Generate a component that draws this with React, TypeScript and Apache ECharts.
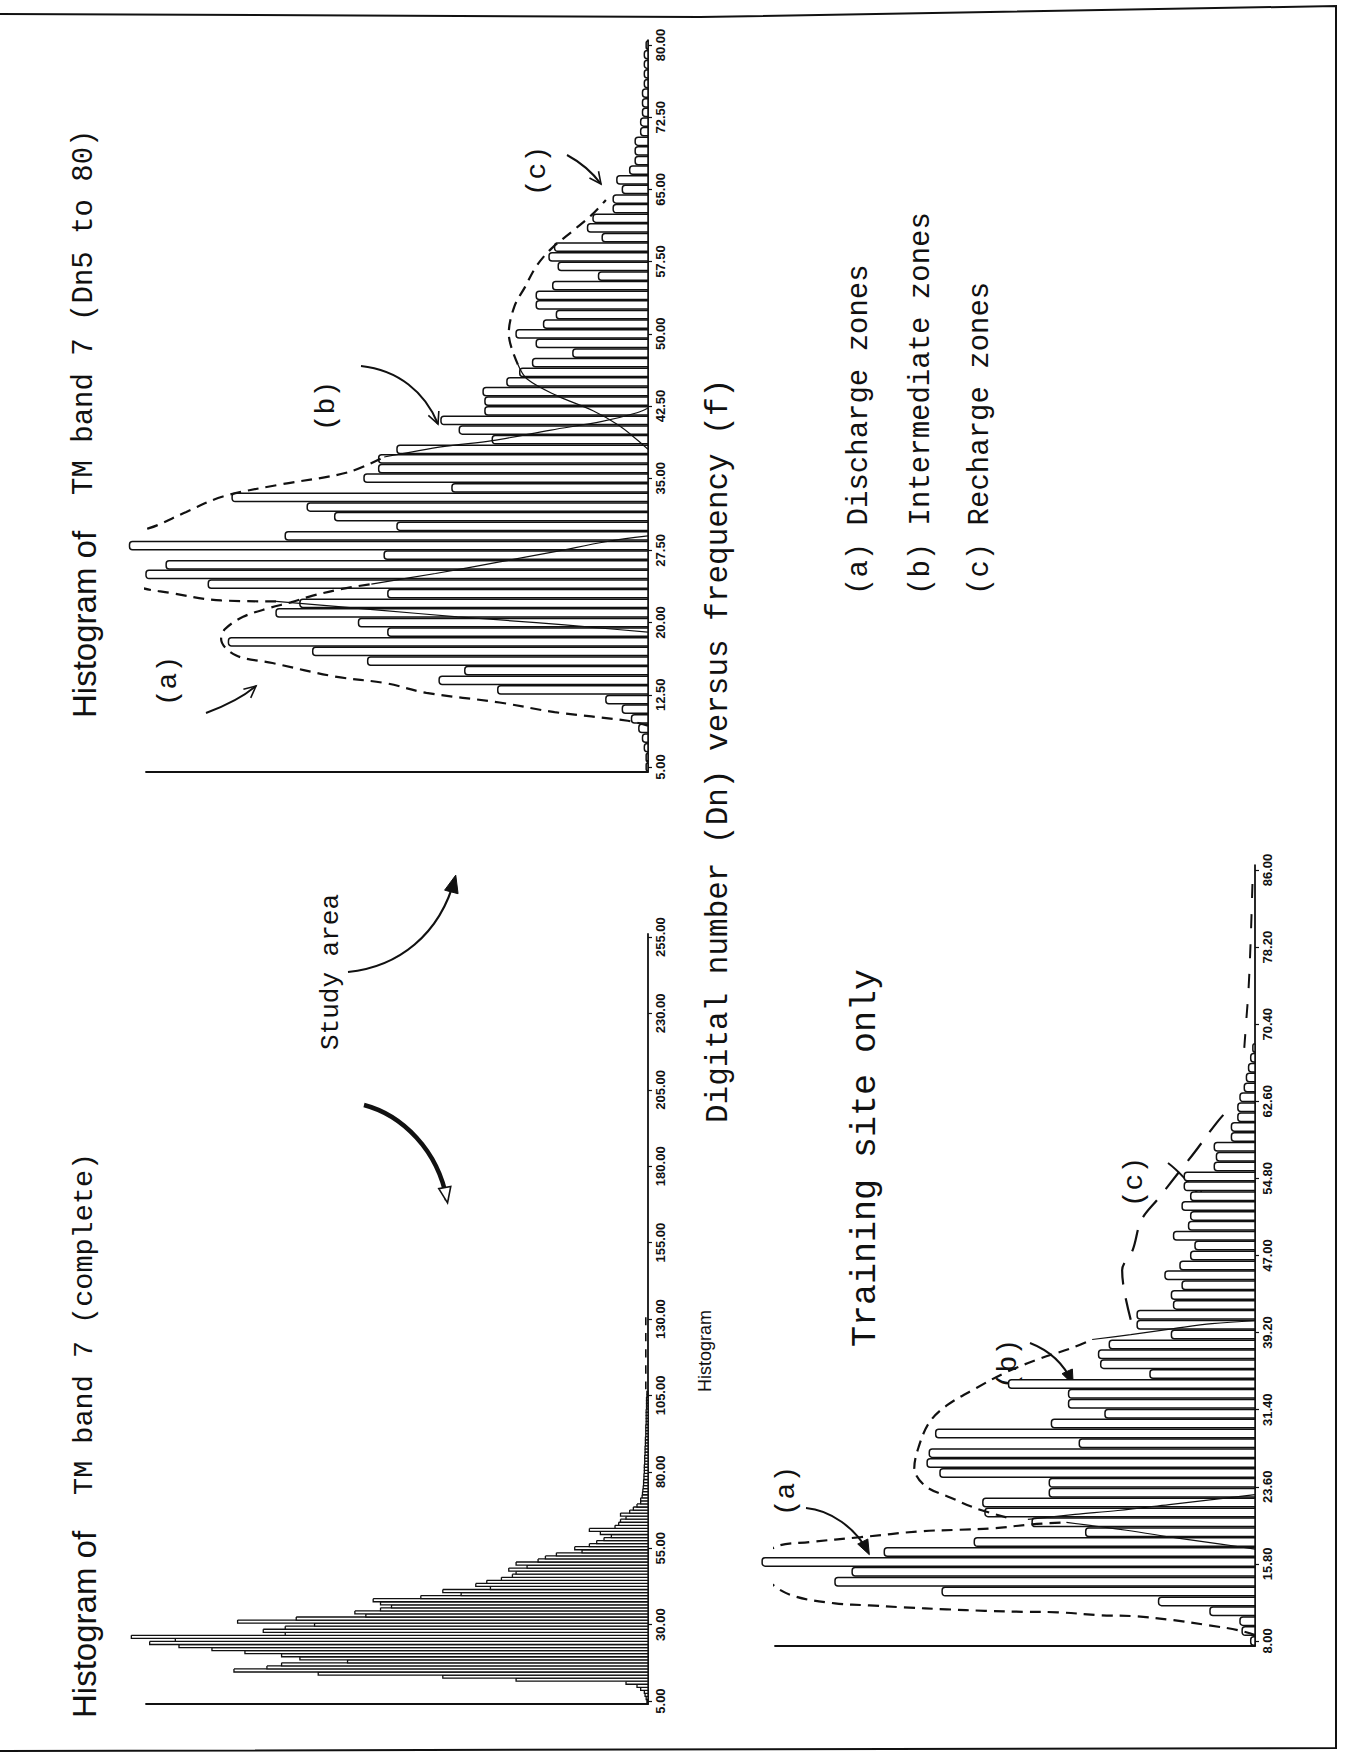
import React, { useEffect, useRef } from "react";
import * as echarts from "echarts";

// ---------------- DATA ----------------
// Histogram of TM band 7 (Dn5 to 80): frequency per Dn, Dn 5..80
const dn5Start = 5;
const dn5Freq = [
  0.5, 0.5, 1, 1.5, 2.5, 4.5, 7, 11.5,
  41, 57, 50, 76.5, 91.5, 114.5, 71, 79,
  101.5, 95, 71, 120, 137, 131.5, 72, 141.5,
  99, 68.5, 85.5, 93, 113.5, 53.5, 77.5, 73.5,
  73.5, 68.5, 42.5, 51.5, 56.5, 44.5, 44.5, 45,
  38.5, 35, 31.5, 20.5, 30.5, 36, 28.5, 25,
  30.5, 30.5, 26, 13.5, 24.5, 27, 25.5, 12.5,
  16.5, 15, 9.5, 9.5, 7, 8.5, 5, 3.5,
  3.5, 3.5, 2, 2, 1.5, 1.5, 1.5, 1,
  1, 1, 1, 0.5,
];
const dn5Ticks = [5, 12.5, 20, 27.5, 35, 42.5, 50, 57.5, 65, 72.5, 80];

// Histogram of TM band 7 (complete): Dn 5..108
const completeStart = 5;
const completeFreq = [
  0.3, 0.5, 0.8, 1, 2, 3, 6, 36,
  56, 90, 113, 104, 100, 82, 95, 100,
  110, 119, 128, 136, 129, 141, 99, 105,
  99, 91, 112, 96, 77, 80, 73, 70,
  73, 75, 62, 51, 56, 43, 47, 44,
  40, 37, 36, 38, 33, 36, 30, 28,
  25, 18, 20, 16, 14, 12, 10, 13,
  16, 9, 8, 7.5, 6, 7.5, 5, 4,
  3, 2, 2, 1.6, 1.5, 1.4, 1.3, 1.2,
  1.2, 1.1, 1.1, 1, 1, 1, 0.9, 0.9,
  0.9, 0.8, 0.8, 0.8, 0.7, 0.7, 0.7, 0.6,
  0.6, 0.6, 0.6, 0.5, 0.5, 0.5, 0.5, 0.5,
  0.4, 0.4, 0.4, 0.4, 0.3, 0.3,
];
const completeTicks = [5, 30, 55, 80, 105, 130, 155, 180, 205, 230, 255];
const completeTail = [[0.6, 107], [0.6, 132]];

// Training site only: Dn 8..68
const trainStart = 8;
const trainFreq = [
  1, 3, 3.5, 10.5, 22.5, 73, 98, 94,
  115, 86.5, 65.5, 39.5, 52, 63, 63.5, 48,
  48, 73.5, 76.5, 76, 41, 74.5, 47.5, 35,
  43.5, 43.5, 57.5, 24.5, 36, 36.5, 34, 19.5,
  27.5, 27.5, 19, 19.5, 17, 21, 17.5, 15,
  14, 19, 15.5, 15, 17, 15, 16.5, 16.5,
  9.5, 9, 9.5, 5.5, 5.5, 4, 4, 3.5,
  2.5, 2, 1.5, 1, 0.5,
];
const trainTicks = [8, 15.8, 23.6, 31.4, 39.2, 47, 54.8, 62.6, 70.4, 78.2, 86];

// Hand-drawn envelopes, [frequency, Dn]
const dn5EnvA = [[0, 9.3], [5.5, 9.8], [25.5, 10.7], [40.5, 11.7], [60.5, 12.7], [71.5, 13.7], [85.5, 14.4], [102.5, 15.8], [112.5, 16.6], [116.5, 18.3], [115.5, 19.3], [110.5, 20.6], [103.5, 21.5], [97.5, 22.1], [91.5, 22.8], [83.5, 23.5], [75.5, 24.0]];
const dn5TailA = [[75.5, 24.0], [58, 25.1], [40.5, 26.3], [25, 27.4], [11.5, 28.4], [0, 29.0]];
const dn5TailB1 = [[0, 19.0], [15, 19.5], [30.5, 20.0], [52, 20.6], [73.5, 21.3], [101.5, 22.2]];
const dn5EnvB = [[101.5, 22.2], [116.5, 22.3], [130.5, 23.1], [139.5, 23.8], [142.5, 25.1], [143.5, 27.5], [140, 29.2], [134, 30.1], [126, 31.5], [116, 33.1], [101, 34.3], [82, 35.6], [72, 37.2]];
const dn5TailB2 = [[72, 37.2], [55.5, 38.3], [42.5, 38.9], [26.5, 40], [12.5, 40.9], [3, 41.8], [0, 42.3]];
const dn5TailC = [[0, 38], [3, 39], [8, 40.5], [15, 42], [25, 43.6], [33, 45.3], [35.5, 46.8]];
const dn5EnvC = [[35.5, 46.8], [38, 50], [36.5, 52.8], [33.5, 54.9], [30.5, 57], [26.5, 58.8], [20.5, 60.7], [15.5, 62.3], [11.5, 63.9]];

const trEnvA = [[0, 8.6], [4, 9.1], [11, 9.6], [19, 10.1], [28, 10.5], [36, 10.6], [46, 10.9], [54, 10.95], [63, 11.05], [72, 11.2], [82, 11.4], [90, 11.6], [98, 11.8], [108, 12.6], [113.5, 14.1], [115, 15.9], [112, 17.5], [104, 18], [92, 18.5], [78, 19.1], [69, 19.25], [61, 19.4], [52, 19.8], [44, 20]];
const trTail1 = [[44, 20], [30, 19.2], [18, 18.4], [8, 17.8], [0, 17.3]];
const trTail2 = [[53, 20.3], [42, 20.8], [32, 21.2], [20, 21.8], [8, 22.4], [0, 22.8]];
const trEnvB = [[58, 20.5], [65, 21.4], [71, 22.5], [77, 23.7], [79.5, 25.5], [78.5, 27.6], [76, 30.1], [72, 31.8], [65, 33.6], [58, 35.2], [50, 36.6], [43, 37.6], [38, 38.5]];
const trTail3 = [[38, 38.5], [29, 39], [19, 39.6], [10, 40.1], [0, 40.4]];
const trEnvC = [[29, 40.5], [30.5, 43.4], [31, 45.5], [28.5, 47.6], [26.5, 50.6], [22.5, 52.8], [18, 55.3], [14, 57.5], [9, 60.4], [6, 61.9]];
const trTailC = [[2.5, 68], [2, 71], [1.5, 74], [1, 79], [0.5, 86]];

// ---------------- HELPERS ----------------
const INK = "#111";
const MONO = "'Liberation Mono', 'DejaVu Sans Mono', monospace";
const SANS = "'Liberation Sans', Arial, sans-serif";

function yAxisDn(grid: number, min: number, max: number, ticks: number[]) {
  return {
    type: "value",
    gridIndex: grid,
    position: "right",
    min,
    max,
    axisLine: { show: true, onZero: false, lineStyle: { color: INK, width: 1.8 } },
    axisTick: { show: true, customValues: ticks, length: 4, lineStyle: { color: INK, width: 1.2 } },
    axisLabel: {
      show: true,
      customValues: ticks,
      rotate: 90,
      formatter: (v: number) => v.toFixed(2),
      fontSize: 13,
      fontWeight: "bold",
      color: INK,
      fontFamily: SANS,
      margin: 6,
    },
    splitLine: { show: false },
  };
}

function xAxisFreq(grid: number, max: number) {
  return {
    type: "value",
    gridIndex: grid,
    inverse: true,
    min: 0,
    max,
    position: "bottom",
    axisLine: { show: true, onZero: false, lineStyle: { color: INK, width: 1.8 } },
    axisTick: { show: false },
    axisLabel: { show: false },
    splitLine: { show: false },
  };
}

function barSeries(grid: number, start: number, values: number[], half: number, lw: number, radius: number) {
  return {
    type: "custom",
    xAxisIndex: grid,
    yAxisIndex: grid,
    data: values.map((v, i) => [v, start + i]).filter((d) => d[0] > 0),
    encode: { x: 0, y: 1 },
    clip: false,
    silent: true,
    z: 2,
    renderItem: (_params: any, api: any) => {
      const f = api.value(0);
      const d = api.value(1);
      const a = api.coord([0, d - half]);
      const b = api.coord([f, d + half]);
      return {
        type: "rect",
        shape: { x: b[0], y: b[1], width: a[0] - b[0], height: a[1] - b[1], r: [radius, 0, 0, radius] },
        style: { fill: "#fff", stroke: INK, lineWidth: lw },
      };
    },
  };
}

function curve(grid: number, pts: number[][], dashed: boolean, width: number, dash: number[] = [11, 7]) {
  return {
    type: "line",
    xAxisIndex: grid,
    yAxisIndex: grid,
    data: pts,
    showSymbol: false,
    symbol: "none",
    smooth: 0.35,
    silent: true,
    z: 5,
    lineStyle: { color: INK, width, type: dashed ? dash : "solid" },
  };
}

function vText(x: number, y: number, text: string, size: number, family: string, align = "left", extra: any = {}) {
  return {
    type: "text",
    x,
    y,
    rotation: Math.PI / 2,
    silent: true,
    style: { text, fontSize: size, fontFamily: family, fill: INK, align, verticalAlign: "middle", ...extra },
  };
}

function arrow(p: number[], width: number, head: "open" | "filled" | "triangle", size = 13) {
  const [x1, y1, c1x, c1y, c2x, c2y, x2, y2] = p;
  const ang = Math.atan2(y2 - c2y, x2 - c2x);
  const spread = 0.45;
  const l = [x2 - size * Math.cos(ang - spread), y2 - size * Math.sin(ang - spread)];
  const r = [x2 - size * Math.cos(ang + spread), y2 - size * Math.sin(ang + spread)];
  const tip = [x2 + 3 * Math.cos(ang), y2 + 3 * Math.sin(ang)];
  const els: any[] = [
    {
      type: "bezierCurve",
      silent: true,
      shape: { x1, y1, cpx1: c1x, cpy1: c1y, cpx2: c2x, cpy2: c2y, x2, y2 },
      style: { stroke: INK, lineWidth: width, fill: "none" },
    },
  ];
  if (head === "open") {
    els.push({ type: "polyline", silent: true, shape: { points: [l, [x2, y2], r] }, style: { stroke: INK, lineWidth: Math.max(1.6, width * 0.8), fill: "none" } });
  } else {
    els.push({
      type: "polygon",
      silent: true,
      shape: { points: [l, tip, r] },
      style: head === "filled" ? { fill: INK, stroke: INK, lineWidth: 1 } : { fill: "#fff", stroke: INK, lineWidth: 1.6 },
    });
  }
  return els;
}

// ---------------- COMPONENT ----------------
export default function App() {
  const ref = useRef<HTMLDivElement>(null);

  useEffect(() => {
    if (!ref.current) return;
    const chart = echarts.init(ref.current, null, { renderer: "svg" });

    const graphic: any[] = [
      // frame
      { type: "polyline", silent: true, shape: { points: [[0, 14], [700, 17], [1336, 6], [1336, 1748], [0, 1751]] }, style: { stroke: INK, lineWidth: 2, fill: "none" } },
      // titles
      vText(84, 718, "{s|Histogram of}  {m|TM band 7 (Dn5 to 80)}", 30, MONO, "left", {
        rich: { s: { fontFamily: SANS, fontSize: 33, fill: INK }, m: { fontFamily: MONO, fontSize: 29, fill: INK } },
      }),
      vText(84, 1718, "{s|Histogram of}  {m|TM band 7 (complete)}", 30, MONO, "left", {
        rich: { s: { fontFamily: SANS, fontSize: 33, fill: INK }, m: { fontFamily: MONO, fontSize: 28.5, fill: INK } },
      }),
      vText(331, 1050, "Study area", 26, MONO),
      vText(718, 1123, "Digital number (Dn) versus frequency (f)", 31, MONO),
      vText(705, 1392, "Histogram", 18, SANS),
      vText(866, 1347, "Training site only", 35, MONO),
      vText(859, 595, "(a) Discharge zones", 29, MONO),
      vText(921, 595, "(b) Intermediate zones", 29, MONO),
      vText(980, 595, "(c) Recharge zones", 29, MONO),
      // zone labels on histograms
      vText(168, 681, "(a)", 28, MONO, "center"),
      vText(326, 406, "(b)", 28, MONO, "center"),
      vText(537, 171, "(c)", 28, MONO, "center"),
      vText(786, 1491, "(a)", 28, MONO, "center"),
      vText(1008, 1364, "(b)", 28, MONO, "center"),
      vText(1134, 1182, "(c)", 28, MONO, "center"),
      // arrows
      ...arrow([206, 713, 225, 706, 243, 697, 256, 686], 2, "open"),
      ...arrow([361, 366, 398, 370, 425, 392, 438, 424], 2, "open"),
      ...arrow([567, 155, 580, 162, 592, 172, 601, 184], 2, "open"),
      ...arrow([364, 1105, 402, 1115, 438, 1150, 447, 1200], 4.5, "triangle", 14),
      ...arrow([348, 972, 398, 967, 440, 935, 455, 878], 2.2, "filled", 16),
      ...arrow([806, 1508, 830, 1510, 856, 1528, 868, 1552], 2, "filled", 13),
      ...arrow([1030, 1343, 1048, 1350, 1063, 1362, 1072, 1382], 2, "filled", 13),
      ...arrow([1168, 1163, 1180, 1172, 1192, 1186, 1203, 1200], 2, "open"),
    ];

    const option: any = {
      animation: false,
      backgroundColor: "#fff",
      grid: [
        { left: 146, width: 502, top: 40.2, height: 731.6 },
        { left: 146, width: 502, top: 934, height: 770.1 },
        { left: 775, width: 480, top: 865.1, height: 780.8 },
      ],
      xAxis: [xAxisFreq(0, 137), xAxisFreq(1, 137), xAxisFreq(2, 112)],
      yAxis: [
        yAxisDn(0, 4.5, 80.5, dn5Ticks),
        yAxisDn(1, 4, 256, completeTicks),
        yAxisDn(2, 7.5, 86.5, trainTicks),
      ],
      series: [
        barSeries(0, dn5Start, dn5Freq, 0.43, 1.5, 3),
        barSeries(1, completeStart, completeFreq, 0.5, 1.3, 0),
        barSeries(2, trainStart, trainFreq, 0.43, 1.5, 3),
        curve(0, dn5EnvA, true, 2.2),
        curve(0, dn5TailA, false, 1.2),
        curve(0, dn5TailB1, false, 1.2),
        curve(0, dn5EnvB, true, 2.2),
        curve(0, dn5TailB2, false, 1.2),
        curve(0, dn5TailC, false, 1.2),
        curve(0, dn5EnvC, true, 2.2),
        curve(1, completeTail, true, 1.6, [8, 8]),
        curve(2, trEnvA, true, 2.2),
        curve(2, trTail1, false, 1.2),
        curve(2, trTail2, false, 1.2),
        curve(2, trEnvB, true, 2.2),
        curve(2, trTail3, false, 1.2),
        curve(2, trEnvC, true, 2.2, [22, 14]),
        curve(2, trTailC, true, 2, [14, 16]),
      ],
      graphic,
    };

    chart.setOption(option);
    return () => chart.dispose();
  }, []);

  return (
    <div
      ref={ref}
      style={{ position: "absolute", left: 0, top: 0, width: 1345, height: 1760, background: "#fff" }}
    />
  );
}
